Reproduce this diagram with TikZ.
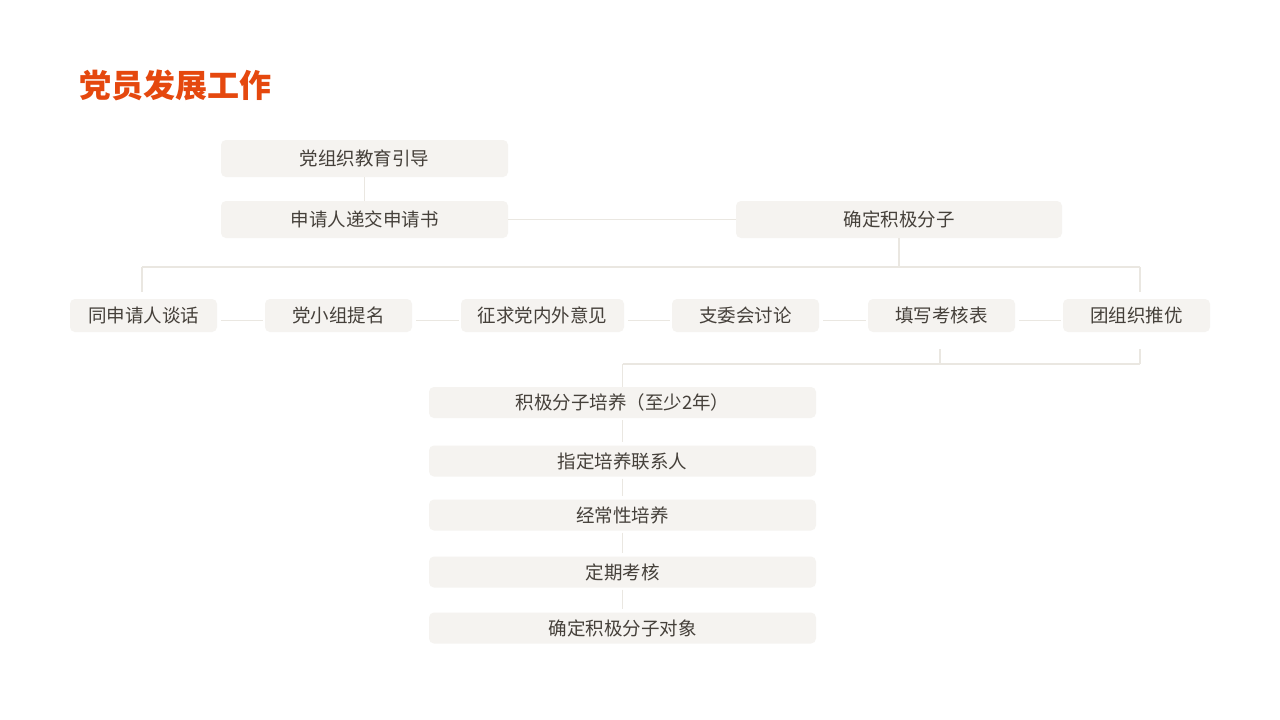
\documentclass[tikz,border=0pt]{standalone}
\usepackage{fontspec}
\newfontfamily\cjk{Noto Sans CJK SC}
\usetikzlibrary{calc}
\definecolor{boxfill}{HTML}{F5F3F0}
\definecolor{boxtext}{HTML}{45403A}
\definecolor{linecol}{HTML}{EAE7E1}
\definecolor{titlecol}{HTML}{E5480E}
\tikzset{
  box/.style={draw=none, fill=boxfill, rounded corners=5pt, text=boxtext,
    font=\cjk\fontsize{18.5}{20}\selectfont, inner sep=0pt, align=center},
  conn/.style={draw=linecol, line width=1.2pt},
}
\begin{document}
\begin{tikzpicture}[x=1pt,y=-1pt]
\useasboundingbox[fill=white] (0,0) rectangle (1280,720);
\node[anchor=west, text=titlecol, font=\cjk\bfseries\fontsize{32}{34}\selectfont] (title) at (76,85) {党员发展工作};

\node[box, minimum width=287pt, minimum height=37pt] (t1) at (364.5,158.5) {党组织教育引导};
\node[box, minimum width=287pt, minimum height=37pt] (t2) at (364.5,219.5) {申请人递交申请书};
\node[box, minimum width=326pt, minimum height=37pt] (t3) at (899,219.5) {确定积极分子};

\node[box, minimum width=147pt, minimum height=33pt] (r1) at (143.5,315.5) {同申请人谈话};
\node[box, minimum width=147pt, minimum height=33pt] (r2) at (338.5,315.5) {党小组提名};
\node[box, minimum width=163pt, minimum height=33pt] (r3) at (542.5,315.5) {征求党内外意见};
\node[box, minimum width=147pt, minimum height=33pt] (r4) at (745.5,315.5) {支委会讨论};
\node[box, minimum width=147pt, minimum height=33pt] (r5) at (941.5,315.5) {填写考核表};
\node[box, minimum width=147pt, minimum height=33pt] (r6) at (1136.5,315.5) {团组织推优};

\node[box, minimum width=387pt, minimum height=31pt] (s1) at (622.5,402.5) {积极分子培养（至少2年）};
\node[box, minimum width=387pt, minimum height=31pt] (s2) at (622.5,461) {指定培养联系人};
\node[box, minimum width=387pt, minimum height=31pt] (s3) at (622.5,515) {经常性培养};
\node[box, minimum width=387pt, minimum height=31pt] (s4) at (622.5,572) {定期考核};
\node[box, minimum width=387pt, minimum height=31pt] (s5) at (622.5,628) {确定积极分子对象};

% top connectors
\draw[conn] (t1.south) -- (t2.north);
\draw[conn] (t2.east) -- (t3.west);
\coordinate (busL) at (142,267);
\coordinate (busR) at (1140,267);
\draw[conn] (t3.south) -- (t3.south |- busL);
\draw[conn] (busL) -- (busR);
\draw[conn, shorten >=7pt] (busL) -- (busL |- r1.north);
\draw[conn, shorten >=7pt] (busR) -- (busR |- r6.north);

% row connectors
\foreach \a/\b in {r1/r2, r2/r3, r3/r4, r4/r5, r5/r6}{
  \draw[conn, shorten <=4pt, shorten >=2pt] ($(\a.east)+(0,5)$) -- ($(\b.west)+(0,5)$);
}

% lower bus
\coordinate (bus2L) at (622.5,364);
\coordinate (bus2R) at (1140,364);
\draw[conn, shorten <=17pt] (r5.south -| 940,0) -- (bus2L -| 940,0);
\draw[conn, shorten <=17pt] (r6.south -| bus2R) -- (bus2R);
\draw[conn] (bus2L) -- (bus2R);
\draw[conn] (bus2L) -- (s1.north);

% stack connectors
\foreach \a/\b in {s1/s2, s2/s3, s3/s4, s4/s5}{
  \draw[conn, shorten <=2pt, shorten >=3pt] (\a.south) -- (\b.north);
}
\end{tikzpicture}
\end{document}
